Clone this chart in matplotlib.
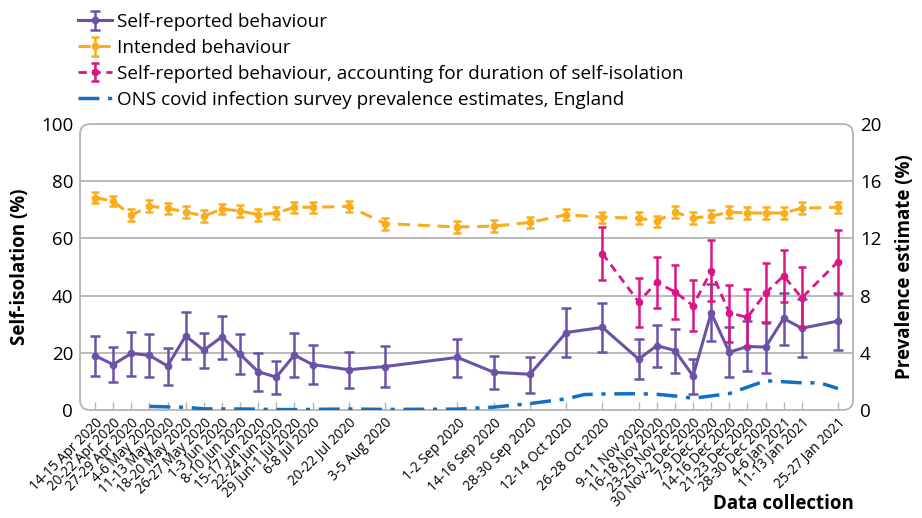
import matplotlib.pyplot as plt
import numpy as np
from matplotlib.patches import FancyBboxPatch

plt.rcParams['font.family'] = ['Open Sans', 'DejaVu Sans']

# survey waves (Tuesday of each collection window)
wave_dates = ["2020-04-14", "2020-04-21", "2020-04-28", "2020-05-05", "2020-05-12",
              "2020-05-19", "2020-05-26", "2020-06-02", "2020-06-09", "2020-06-16",
              "2020-06-23", "2020-06-30", "2020-07-07", "2020-07-21", "2020-08-04",
              "2020-09-01", "2020-09-15", "2020-09-29", "2020-10-13", "2020-10-27",
              "2020-11-10", "2020-11-17", "2020-11-24", "2020-12-01", "2020-12-08",
              "2020-12-15", "2020-12-22", "2020-12-29", "2021-01-05", "2021-01-12",
              "2021-01-26"]
wave_labels = ["14-15 Apr 2020", "20-22 Apr 2020", "27-29 Apr 2020", "4-6 May 2020",
               "11-13 May 2020", "18-20 May 2020", "26-27 May 2020", "1-3 Jun 2020",
               "8-10 Jun 2020", "15-17 Jun 2020", "22-24 Jun 2020", "29 Jun-1 Jul 2020",
               "6-8 Jul 2020", "20-22 Jul 2020", "3-5 Aug 2020", "1-2 Sep 2020",
               "14-16 Sep 2020", "28-30 Sep 2020", "12-14 Oct 2020", "26-28 Oct 2020",
               "9-11 Nov 2020", "16-18 Nov 2020", "23-25 Nov 2020", "30 Nov-2 Dec 2020",
               "7-9 Dec 2020", "14-16 Dec 2020", "21-23 Dec 2020", "28-30 Dec 2020",
               "4-6 Jan 2021", "11-13 Jan 2021", "25-27 Jan 2021"]

# self-reported behaviour (%), with 95% CI
self_rep = [19.0, 15.9, 19.8, 19.1, 15.4, 25.9, 20.9, 25.6, 19.5, 13.4, 11.5, 19.2,
            15.9, 14.1, 15.2, 18.4, 13.2, 12.5, 27.1, 28.9, 17.8, 22.5, 20.8, 11.9,
            34.0, 20.2, 22.2, 22.0, 32.0, 28.6, 31.1]
self_lo = [12.0, 9.7, 12.0, 11.5, 8.7, 17.7, 14.8, 17.9, 12.7, 6.7, 5.7, 11.6,
           9.2, 7.8, 8.1, 11.6, 7.2, 6.1, 18.4, 20.2, 10.9, 15.0, 13.0, 5.7,
           24.0, 11.6, 13.5, 12.9, 22.8, 18.5, 20.9]
self_hi = [25.8, 22.0, 27.3, 26.6, 21.6, 34.1, 27.1, 33.0, 26.6, 19.8, 17.1, 27.0,
           22.6, 20.2, 22.3, 24.8, 19.0, 18.7, 35.7, 37.3, 24.8, 29.7, 28.3, 17.8,
           44.2, 28.9, 31.2, 30.7, 40.9, 38.9, 40.9]

# intended behaviour (%), with 95% CI half-width
intended = [74.3, 73.0, 68.1, 71.3, 70.5, 69.3, 67.8, 70.3, 69.6, 68.3, 68.9, 70.9,
            70.9, 71.2, 65.2, 64.0, 64.3, 65.6, 68.3, 67.4, 67.1, 66.0, 69.2, 67.1,
            67.8, 69.2, 68.9, 68.9, 68.9, 70.6, 70.9]
intended_err = [1.8, 1.8, 2.1, 2.2, 2.0, 2.0, 2.0, 1.9, 2.0, 2.1, 2.0, 2.0,
                2.0, 2.0, 2.1, 2.0, 2.0, 2.0, 2.0, 1.9, 2.0, 2.0, 2.0, 2.0,
                2.0, 2.0, 2.0, 2.0, 2.0, 2.0, 2.0]

# self-reported behaviour accounting for duration (from 26-28 Oct 2020)
dur_start = 19
duration = [54.7, 37.8, 44.7, 41.3, 36.5, 48.6, 34.0, 32.4, 40.9, 46.9, 39.2, 51.9]
duration_lo = [45.3, 29.1, 35.7, 31.8, 27.6, 38.0, 23.8, 22.4, 30.6, 37.6, 28.9, 40.7]
duration_hi = [64.0, 46.1, 53.4, 50.8, 45.4, 59.3, 43.7, 42.2, 51.5, 56.1, 50.0, 63.1]

# ONS covid infection survey prevalence, England (%)
ons_dates = ["2020-05-05", "2020-05-12", "2020-05-19", "2020-05-26", "2020-06-02",
             "2020-06-09", "2020-06-16", "2020-06-23", "2020-06-30", "2020-07-07",
             "2020-07-21", "2020-08-04", "2020-09-01", "2020-09-15", "2020-09-29",
             "2020-10-13", "2020-10-20", "2020-10-27", "2020-11-10", "2020-11-17",
             "2020-11-24", "2020-12-01", "2020-12-15", "2020-12-29", "2021-01-12",
             "2021-01-19", "2021-01-26"]
ons_prev = [0.25, 0.22, 0.19, 0.08, 0.07, 0.07, 0.06, 0.03, 0.03, 0.04,
            0.07, 0.04, 0.06, 0.20, 0.45, 0.78, 1.08, 1.12, 1.14, 1.10,
            0.98, 0.82, 1.15, 2.05, 1.90, 1.90, 1.50]

purple = '#6b52a6'
orange = '#f9ad1b'
magenta = '#dc1487'
blue = '#1170c2'
grey = '#b4b4b4'

t0 = np.datetime64(wave_dates[0])
x = (np.array(wave_dates, dtype='datetime64[D]') - t0).astype(int)
x_ons = (np.array(ons_dates, dtype='datetime64[D]') - t0).astype(int)

fig = plt.figure(figsize=(9.22, 5.18), dpi=100)
ax = fig.add_axes([0.0868, 0.2085, 0.8384, 0.552])
ax2 = ax.twinx()

sr = np.array(self_rep)
h_self = ax.errorbar(x, sr, yerr=[sr - np.array(self_lo), np.array(self_hi) - sr],
                     color=purple, lw=2.2, marker='o', ms=4.5, capsize=3.5,
                     elinewidth=1.8, capthick=1.8, zorder=4)
h_int = ax.errorbar(x, intended, yerr=intended_err, color=orange, lw=2.2,
                    ls=(0, (4, 2.5)), marker='o', ms=4.5, capsize=3,
                    elinewidth=1.8, capthick=1.8, zorder=3)
xd = x[dur_start:]
du = np.array(duration)
h_dur = ax.errorbar(xd, du, yerr=[du - np.array(duration_lo), np.array(duration_hi) - du],
                    color=magenta, lw=2, ls=(0, (3, 2)), marker='o', ms=4.5,
                    capsize=3, elinewidth=1.8, capthick=1.8, zorder=5)
h_ons, = ax2.plot(x_ons, ons_prev, color=blue, lw=2.5, ls=(0, (6, 2.5, 1.2, 2.5)))

ax.set_xlim(x[0] - 5.8, x[-1] + 5.8)
ax.set_ylim(0, 100)
ax2.set_ylim(0, 20)
ax.set_yticks([0, 20, 40, 60, 80, 100])
ax2.set_yticks([0, 4, 8, 12, 16, 20])
ax.set_xticks(x)
ax.set_xticklabels(wave_labels, rotation=45, ha='right', rotation_mode='anchor',
                   fontsize=9.8)
ax.tick_params(axis='x', direction='in', length=6, width=1, color=grey, pad=4)
ax.tick_params(axis='y', length=0, labelsize=13.5, pad=5)
ax2.tick_params(axis='y', length=0, labelsize=13.5, pad=5)

for a in (ax, ax2):
    for s in a.spines.values():
        s.set_visible(False)
for v in [20, 40, 60, 80]:
    ax.axhline(v, color=grey, lw=1.3, zorder=1)

frame = FancyBboxPatch((0, 0), 1, 1, boxstyle='round,pad=0,rounding_size=0.013',
                       mutation_aspect=2.7, transform=ax.transAxes, fill=False,
                       ec=grey, lw=1.3, clip_on=False, zorder=1)
ax.add_patch(frame)

ax.set_ylabel('Self-isolation (%)', fontsize=13.5, fontweight='bold', labelpad=8)
ax2.set_ylabel('Prevalence estimate (%)', fontsize=13.5, fontweight='bold',
               rotation=90, labelpad=10)
fig.text(0.85, 0.008, 'Data collection', fontsize=13.5, fontweight='bold',
         ha='center', va='bottom')

fig.legend([h_self, h_int, h_dur, h_ons],
           ['Self-reported behaviour', 'Intended behaviour',
            'Self-reported behaviour, accounting for duration of self-isolation',
            'ONS covid infection survey prevalence estimates, England'],
           loc='upper left', bbox_to_anchor=(0.076, 0.99), frameon=False,
           fontsize=13.6, handlelength=1.8, labelspacing=0.42, handletextpad=0.3,
           borderaxespad=0)

fig.savefig('out.png', dpi=100)
